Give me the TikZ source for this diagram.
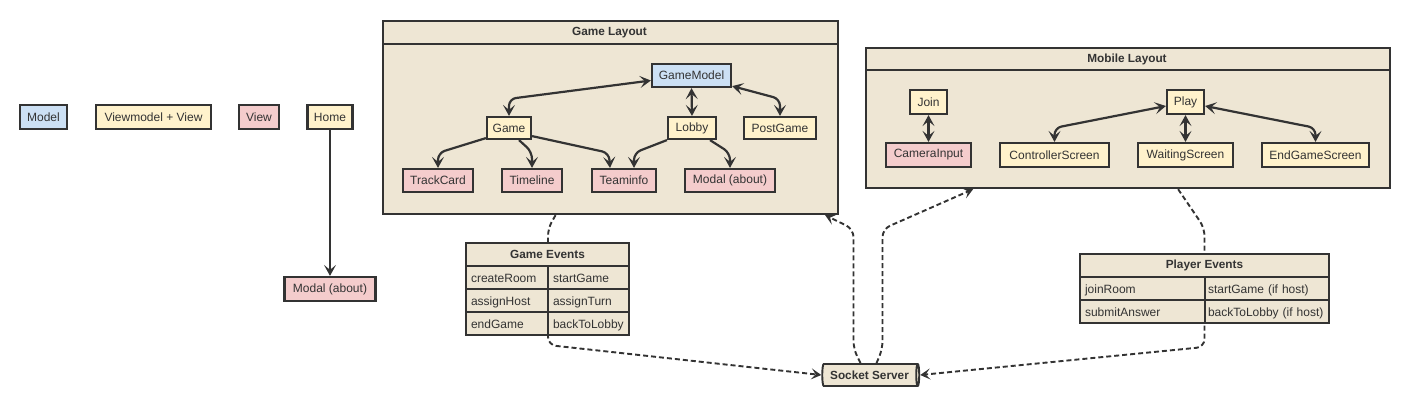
\documentclass[tikz,border=0pt]{standalone}
\usepackage{fontspec}
\setmainfont{Liberation Sans}
\usetikzlibrary{shapes.geometric,arrows.meta}
\definecolor{ink}{HTML}{333333}
\definecolor{bluef}{HTML}{CCE0F4}
\definecolor{yellowf}{HTML}{FFF2CC}
\definecolor{pinkf}{HTML}{F4CCCC}
\definecolor{beige}{HTML}{EEE6D4}
\begin{document}
\begin{tikzpicture}[x=1pt,y=-1pt,
  txt/.style={text=ink, font=\fontsize{12}{14}\selectfont},
  boldtxt/.style={text=ink, font=\fontsize{11.8}{14}\selectfont\bfseries},
  box/.style={txt, draw=ink, line width=2.2pt, inner sep=0pt, minimum height=23pt},
  model/.style={box, fill=bluef},
  vm/.style={box, fill=yellowf},
  view/.style={box, fill=pinkf},
  frame/.style={draw=ink, line width=2.2pt, fill=beige, inner sep=0pt, anchor=north west},
  cell/.style={txt, draw=ink, line width=2.2pt, fill=beige, inner sep=0pt, minimum height=23pt},
  lcell/.style={cell, align=left, inner xsep=5pt, text depth=0pt, text height=9pt},
  tip/.tip={Stealth[length=11pt,width=12pt,inset=5pt]},
  link/.style={draw=ink, line width=2.2pt, rounded corners=7pt, -tip},
  both/.style={draw=ink, line width=2.2pt, rounded corners=7pt, tip-tip},
  dlink/.style={draw=ink, line width=1.9pt, dash pattern=on 5pt off 3pt, rounded corners=8pt,
    -{Stealth[length=10pt,width=11pt,inset=4.5pt]}}
]
\useasboundingbox (0,0) rectangle (1410,408);

% Legend
\node[model, minimum width=47pt, minimum height=24pt] (lmodel) at (43.5,117) {Model};
\node[vm, minimum width=115pt, minimum height=24pt] (lvm) at (153.5,117) {Viewmodel + View};
\node[view, minimum width=40pt, minimum height=24pt] (lview) at (259,117) {View};
\node[vm, minimum width=45pt, minimum height=24pt] (home) at (330,117) {Home};
\node[view, minimum width=91pt, minimum height=24pt] (lmodal) at (330,289) {Modal (about)};
\draw[link] (home.south) -- (lmodal.north);

% Game Layout frame
\node[frame, minimum width=455pt, minimum height=193pt] (gl) at (382,20) {};
\draw[draw=ink, line width=2.2pt] (gl.north west) ++(0,24) -- ++(455,0);
\node[boldtxt] (gltitle) at (609.5,32.5) {Game Layout};

\node[model, minimum width=79pt] (gm) at (691.5,75.5) {GameModel};
\node[vm, minimum width=44pt, minimum height=22pt] (game) at (509,128) {Game};
\node[vm, minimum width=48pt, minimum height=22pt] (lobby) at (692,128) {Lobby};
\node[vm, minimum width=72pt, minimum height=22pt] (pg) at (780,128) {PostGame};
\node[view, minimum width=70pt] (tc) at (438,180.5) {TrackCard};
\node[view, minimum width=60pt] (tl) at (532,180.5) {Timeline};
\node[view, minimum width=64pt] (ti) at (624,180.5) {Teaminfo};
\node[view, minimum width=90pt] (md) at (730,180.5) {Modal (about)};

\draw[both] ([yshift=-5pt]gm.west) -- ([yshift=17pt]game.north) -- (game.north);
\draw[both] (gm.south) -- (lobby.north);
\draw[both] ([yshift=2pt]gm.south east) -- ([yshift=17pt]pg.north) -- (pg.north);
\draw[link] ([yshift=2pt]game.south west) -- ([yshift=15pt]tc.north) -- (tc.north);
\draw[link] ([xshift=10pt]game.south) -- ([yshift=16pt]tl.north) -- (tl.north);
\draw[link] ([yshift=4pt]game.south east) -- ([xshift=-15pt,yshift=15pt]ti.north) -- ([xshift=-14pt]ti.north);
\draw[link] (lobby.south west) -- ([xshift=10pt,yshift=15pt]ti.north) -- ([xshift=10pt]ti.north);
\draw[link] ([xshift=18pt]lobby.south) -- ([yshift=15pt]md.north) -- (md.north);

% Mobile Layout frame
\node[frame, minimum width=524pt, minimum height=140pt] (ml) at (865,47) {};
\draw[draw=ink, line width=2.2pt] (ml.north west) ++(0,23) -- ++(524,0);
\node[boldtxt] (mltitle) at (1127,59) {Mobile Layout};

\node[vm, minimum width=37pt, minimum height=24pt] (join) at (928.5,102) {Join};
\node[view, minimum width=85pt, minimum height=24pt] (cam) at (928.5,155) {CameraInput};
\node[vm, minimum width=37pt, minimum height=24pt] (play) at (1185.5,102) {Play};
\node[vm, minimum width=109pt, minimum height=24pt] (ctrl) at (1054.5,155) {ControllerScreen};
\node[vm, minimum width=95pt, minimum height=24pt] (wait) at (1185.5,155) {WaitingScreen};
\node[vm, minimum width=107pt, minimum height=24pt] (endg) at (1315.5,155) {EndGameScreen};

\draw[both] (join.south) -- (cam.north);
\draw[both] ([yshift=-4pt]play.west) -- ([yshift=14pt]ctrl.north) -- (ctrl.north);
\draw[both] (play.south) -- (wait.north);
\draw[both] ([yshift=-4pt]play.east) -- ([yshift=14pt]endg.north) -- (endg.north);

% Socket server
\node[cylinder, shape border rotate=0, draw=ink, line width=1.9pt, fill=beige,
  minimum width=22pt, minimum height=97pt, aspect=0.35, inner xsep=2pt, inner ysep=0pt,
  boldtxt] (ss) at (869.5,375) {Socket Server};

% Dashed connectors (drawn before the tables)
\draw[dlink] ([xshift=-55pt]gl.south) -- (548,228) -- (548,345) -- (ss.west);
\draw[dlink] ([xshift=-9pt]ss.north) -- ++(-7,-14) -- ++(0,-120) -- ([xshift=-14pt]gl.south east);
\draw[dlink] ([xshift=7pt]ss.north) -- ++(6,-14) -- ++(0,-120) -- ([xshift=-155pt]ml.south);
\draw[dlink] ([xshift=50pt]ml.south) -- (1204.5,228) -- (1204.5,347) -- (ss.east);

% Game Events table
\node[cell, boldtxt, minimum width=163pt] (geh) at (547.5,254.5) {Game Events};
\node[lcell, text width=72pt] (ge1) at (507,277.5) {createRoom};
\node[lcell, text width=71pt] (ge2) at (588.5,277.5) {startGame};
\node[lcell, text width=72pt] (ge3) at (507,300.5) {assignHost};
\node[lcell, text width=71pt] (ge4) at (588.5,300.5) {assignTurn};
\node[lcell, text width=72pt] (ge5) at (507,323.5) {endGame};
\node[lcell, text width=71pt] (ge6) at (588.5,323.5) {backToLobby};

% Player Events table
\node[cell, boldtxt, minimum width=249pt] (peh) at (1204.5,265.5) {Player Events};
\node[lcell, text width=115pt] (pe1) at (1142.5,288.5) {joinRoom};
\node[lcell, inner xsep=3pt, text width=118pt] (pe2) at (1267,288.5) {startGame (if host)};
\node[lcell, text width=115pt] (pe3) at (1142.5,311.5) {submitAnswer};
\node[lcell, inner xsep=3pt, text width=118pt] (pe4) at (1267,311.5) {backToLobby (if host)};
\end{tikzpicture}
\end{document}
